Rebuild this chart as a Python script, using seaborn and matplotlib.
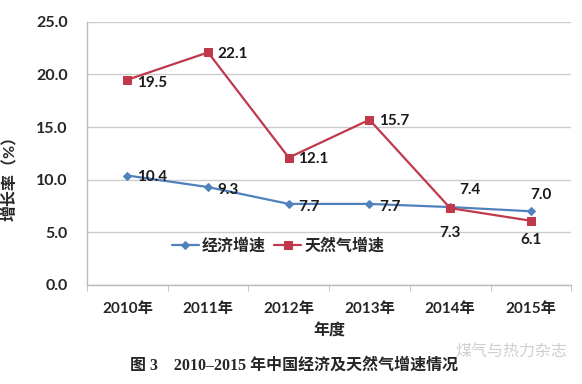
import pandas as pd
import matplotlib.pyplot as plt
import seaborn as sns
import numpy as np

# === DATA ===
years = ["2010年", "2011年", "2012年", "2013年", "2014年", "2015年"]
econ_growth = [10.4, 9.3, 7.7, 7.7, 7.4, 7.0]
gas_growth = [19.5, 22.1, 12.1, 15.7, 7.3, 6.1]

# === CONFIG ===
sns.set_style("white")
plt.rcParams["font.family"] = ["Lato", "Noto Sans CJK SC", "DejaVu Sans"]
blue = "#4F81BD"
red = "#C0394B"

df = pd.DataFrame({"x": np.arange(len(years)), "econ": econ_growth, "gas": gas_growth})

fig = plt.figure(figsize=(5.82, 3.84), dpi=100)
ax = fig.add_axes([0.1495, 0.258, 0.832, 0.685])

sns.lineplot(data=df, x="x", y="econ", ax=ax, color=blue, marker="D", markersize=4.5,
             markeredgecolor=blue, linewidth=1.6, label="经济增速")
sns.lineplot(data=df, x="x", y="gas", ax=ax, color=red, marker="s", markersize=6,
             markeredgecolor=red, linewidth=1.6, label="天然气增速")

# --- value labels (offsets in points) ---
econ_off = [(7, -1), (7, -2), (7, -2), (7, -2), (14, 12), (7, 12)]
gas_off = [(7, -2), (7, -1), (7, -1), (7, -1), (0, -18), (0, -14)]
lab_font = dict(fontsize=11, fontweight="bold", color="#1a1a1a", va="center")
for i, v in enumerate(econ_growth):
    dx, dy = econ_off[i]
    ha = "left" if i < 4 else "center"
    ax.annotate(f"{v:.1f}", (i, v), xytext=(dx, dy), textcoords="offset points", ha=ha, **lab_font)
for i, v in enumerate(gas_growth):
    dx, dy = gas_off[i]
    ha = "left" if i < 4 else "center"
    ax.annotate(f"{v:.1f}", (i, v), xytext=(dx, dy), textcoords="offset points", ha=ha, **lab_font)

ax.set_xlim(-0.5, len(years) - 0.5)
ax.set_ylim(0, 25)
yt = np.arange(0, 25.1, 5)
ax.set_yticks(yt)
ax.set_yticklabels([f"{t:.1f}" for t in yt], fontsize=11.5, fontweight="bold")
ax.set_xticks(np.arange(len(years)))
ax.set_xticklabels(years, fontsize=11, fontweight="bold")
ax.set_xticks(np.arange(-0.5, len(years)), minor=True)
ax.tick_params(axis="x", which="major", length=0, pad=12)
ax.tick_params(axis="x", which="minor", length=4, color="#bbbbbb", direction="out")
ax.tick_params(axis="y", length=0, pad=14)
ax.xaxis.set_ticks_position("bottom")

ax.grid(axis="y", color="#cccccc", linewidth=1.0)
ax.set_axisbelow(True)
for s in ["top", "right"]:
    ax.spines[s].set_visible(False)
for s in ["left", "bottom"]:
    ax.spines[s].set_color("#bbbbbb")
    ax.spines[s].set_linewidth(1.0)

ax.set_xlabel("年度", fontsize=11.5, fontweight="bold")
ax.xaxis.set_label_coords(0.5, -0.145)
ax.set_ylabel("增长率（%）", fontsize=11.5, fontweight="bold")
ax.yaxis.set_label_coords(-0.145, 0.42)

ax.legend(loc="lower left", bbox_to_anchor=(0.145, 0.065), ncol=2, frameon=False,
          handlelength=1.7, columnspacing=0.5, handletextpad=0.2,
          prop={"weight": "bold", "size": 11.5})

fig.text(0.505, 0.047, "图 3　2010–2015 年中国经济及天然气增速情况", ha="center", va="center",
         fontsize=11.5, fontweight="bold", family=["Liberation Serif", "Noto Sans CJK SC"])
fig.text(0.975, 0.085, "煤气与热力杂志", ha="right", va="center", fontsize=11.5,
         color="#cfcfcf", family=["Noto Sans CJK SC"])

fig.savefig("out.png", dpi=100)
